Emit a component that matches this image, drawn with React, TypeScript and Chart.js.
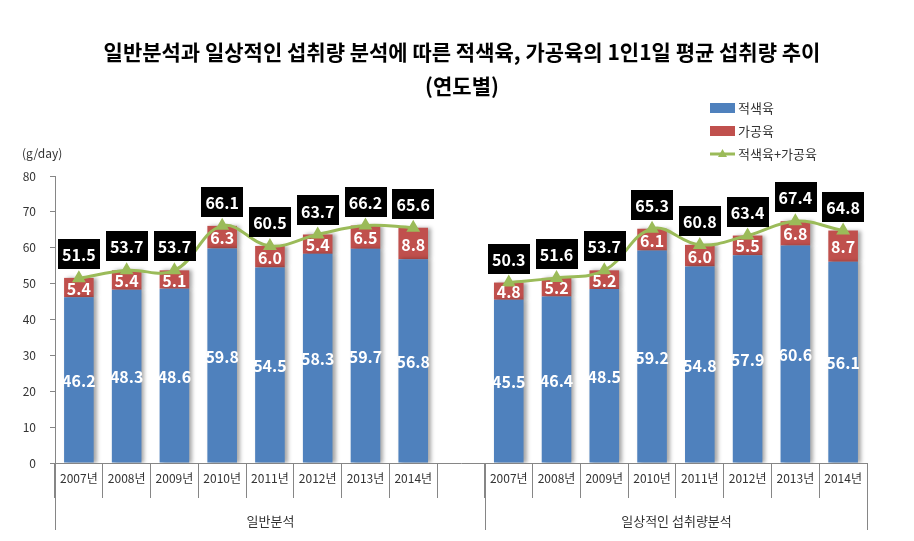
import React, { useEffect, useRef } from 'react';
import { Chart, registerables } from 'chart.js';

Chart.register(...registerables);

const years = ['2007년', '2008년', '2009년', '2010년', '2011년', '2012년', '2013년', '2014년'];
const categories = [...years, '', ...years];
const groupLabels = ['일반분석', '일상적인 섭취량분석'];
const groupRanges = [[0, 8], [9, 16]];
const seriesNames = ['적색육', '가공육', '적색육+가공육'];
const redMeat = [46.2, 48.3, 48.6, 59.8, 54.5, 58.3, 59.7, 56.8, null, 45.5, 46.4, 48.5, 59.2, 54.8, 57.9, 60.6, 56.1];
const processedMeat = [5.4, 5.4, 5.1, 6.3, 6.0, 5.4, 6.5, 8.8, null, 4.8, 5.2, 5.2, 6.1, 6.0, 5.5, 6.8, 8.7];
const totalMeat = [51.5, 53.7, 53.7, 66.1, 60.5, 63.7, 66.2, 65.6, null, 50.3, 51.6, 53.7, 65.3, 60.8, 63.4, 67.4, 64.8];
const titleLines = ['일반분석과 일상적인 섭취량 분석에 따른 적색육, 가공육의 1인1일 평균 섭취량 추이', '(연도별)'];
const unitLabel = '(g/day)';
const yMin = 0;
const yMax = 80;
const yStep = 10;

const BLUE = '#4F81BD';
const RED = '#C0504D';
const GREEN = '#9BBB59';
const AXIS = '#868686';
const TEXT = '#333333';
const FONT = '"Noto Sans CJK KR", "Noto Sans", sans-serif';

const decorPlugin = {
  id: 'decor',
  beforeDatasetDraw(chart: any, args: any) {
    const ds = chart.data.datasets[args.index];
    if (ds.type === 'bar' || !ds.type) {
      const ctx = chart.ctx;
      ctx.save();
      ctx.shadowColor = 'rgba(0,0,0,0.35)';
      ctx.shadowBlur = 4;
      ctx.shadowOffsetX = 3;
      ctx.shadowOffsetY = 0;
    }
  },
  afterDatasetDraw(chart: any, args: any) {
    const ds = chart.data.datasets[args.index];
    if (ds.type === 'bar' || !ds.type) {
      chart.ctx.restore();
    }
  },
  afterDraw(chart: any) {
    const ctx = chart.ctx;
    const xs = chart.scales.x;
    const area = chart.chartArea;
    ctx.save();

    // Title
    ctx.fillStyle = '#000';
    ctx.textAlign = 'center';
    ctx.textBaseline = 'middle';
    ctx.font = `bold 21px ${FONT}`;
    ctx.fillText(titleLines[0], 462, 52);
    ctx.fillText(titleLines[1], 462, 86);

    // unit label
    ctx.font = `12px ${FONT}`;
    ctx.fillStyle = TEXT;
    ctx.textAlign = 'left';
    ctx.fillText(unitLabel, 22, 153);

    // Legend
    const lx = 710;
    const legendY = [108, 131, 154];
    ctx.font = `13px ${FONT}`;
    chart.data.datasets.forEach((ds: any, i: number) => {
      const cy = legendY[i];
      if (ds.type === 'line') {
        ctx.strokeStyle = GREEN;
        ctx.lineWidth = 3;
        ctx.beginPath();
        ctx.moveTo(lx, cy);
        ctx.lineTo(lx + 25, cy);
        ctx.stroke();
        ctx.fillStyle = GREEN;
        ctx.beginPath();
        ctx.moveTo(lx + 12.5, cy - 5);
        ctx.lineTo(lx + 17, cy + 3);
        ctx.lineTo(lx + 8, cy + 3);
        ctx.closePath();
        ctx.fill();
      } else {
        ctx.fillStyle = ds.backgroundColor;
        ctx.fillRect(lx, cy - 5, 25, 10);
      }
      ctx.fillStyle = TEXT;
      ctx.textAlign = 'left';
      ctx.fillText(ds.label, lx + 28, cy);
    });

    // Group separators and labels
    const half = (xs.getPixelForValue(1) - xs.getPixelForValue(0)) / 2;
    ctx.strokeStyle = AXIS;
    ctx.lineWidth = 1;
    const lineBottom = area.bottom + 67;
    groupRanges.forEach((r, gi) => {
      const x0 = Math.round(xs.getPixelForValue(r[0]) - half) + 0.5;
      const x1 = Math.round(xs.getPixelForValue(r[1]) + half) + 0.5;
      ctx.beginPath();
      ctx.moveTo(x0, area.bottom);
      ctx.lineTo(x0, lineBottom);
      ctx.moveTo(x1, area.bottom);
      ctx.lineTo(x1, lineBottom);
      ctx.stroke();
      ctx.fillStyle = TEXT;
      ctx.font = `13px ${FONT}`;
      ctx.textAlign = 'center';
      ctx.textBaseline = 'middle';
      ctx.fillText(groupLabels[gi], (x0 + x1) / 2, area.bottom + 58);
    });

    // Data labels
    ctx.textAlign = 'center';
    ctx.textBaseline = 'middle';
    ctx.font = `bold 16px ${FONT}`;
    [0, 1].forEach((di) => {
      const meta = chart.getDatasetMeta(di);
      const data = chart.data.datasets[di].data;
      meta.data.forEach((el: any, i: number) => {
        if (data[i] == null) return;
        const cy = (el.y + el.base) / 2;
        ctx.fillStyle = '#fff';
        ctx.fillText(Number(data[i]).toFixed(1), el.x, cy + 1);
      });
    });
    const lineMeta = chart.getDatasetMeta(2);
    const lineData = chart.data.datasets[2].data;
    lineMeta.data.forEach((el: any, i: number) => {
      if (lineData[i] == null) return;
      const txt = Number(lineData[i]).toFixed(1);
      const w = ctx.measureText(txt).width + 8;
      const h = 30;
      const cy = el.y - 24;
      ctx.fillStyle = '#000';
      ctx.fillRect(Math.round(el.x - w / 2), Math.round(cy - h / 2), Math.round(w), h);
      ctx.fillStyle = '#fff';
      ctx.fillText(txt, el.x, cy + 1);
    });
    ctx.restore();
  },
};

export default function App() {
  const ref = useRef<HTMLCanvasElement>(null);
  useEffect(() => {
    document.body.style.margin = '0';
    const canvas = ref.current;
    if (!canvas) return;
    const chart = new Chart(canvas, {
      type: 'bar',
      data: {
        labels: categories,
        datasets: [
          {
            type: 'bar',
            label: seriesNames[0],
            data: redMeat as any,
            backgroundColor: BLUE,
            stack: 'bars',
            order: 1,
            barPercentage: 0.62,
            categoryPercentage: 1,
          },
          {
            type: 'bar',
            label: seriesNames[1],
            data: processedMeat as any,
            backgroundColor: RED,
            stack: 'bars',
            order: 2,
            barPercentage: 0.62,
            categoryPercentage: 1,
          },
          {
            type: 'line',
            label: seriesNames[2],
            data: totalMeat as any,
            borderColor: GREEN,
            backgroundColor: GREEN,
            borderWidth: 3,
            tension: 0.4,
            spanGaps: false,
            stack: 'total',
            order: 0,
            pointStyle: 'triangle',
            pointRadius: 5,
            pointBackgroundColor: GREEN,
            pointBorderColor: GREEN,
          } as any,
        ],
      },
      options: {
        responsive: false,
        animation: false,
        devicePixelRatio: 1,
        layout: { padding: { top: 176, right: 47, left: 0, bottom: 0 } },
        plugins: {
          legend: { display: false },
          title: { display: false },
          tooltip: { enabled: false },
        },
        scales: {
          x: {
            stacked: true,
            offset: true,
            grid: {
              display: true,
              offset: true,
              drawOnChartArea: false,
              drawTicks: true,
              tickLength: 35,
              color: AXIS,
            },
            border: { display: true, color: AXIS },
            ticks: {
              font: { family: FONT, size: 12 },
              color: TEXT,
              padding: -27,
              maxRotation: 0,
              autoSkip: false,
            },
            afterFit: (s: any) => {
              s.height = 78;
            },
          },
          y: {
            stacked: true,
            min: yMin,
            max: yMax,
            ticks: {
              stepSize: yStep,
              padding: 14,
              font: { family: FONT, size: 12 },
              color: TEXT,
            },
            grid: { display: true, drawOnChartArea: false, tickLength: 5, color: AXIS },
            border: { display: true, color: AXIS },
            afterFit: (s: any) => {
              s.width = 55;
            },
          },
        },
      },
      plugins: [decorPlugin],
    });
    return () => chart.destroy();
  }, []);
  return (
    <div style={{ width: 914, height: 541, background: '#fff' }}>
      <canvas ref={ref} width={914} height={541} />
    </div>
  );
}
